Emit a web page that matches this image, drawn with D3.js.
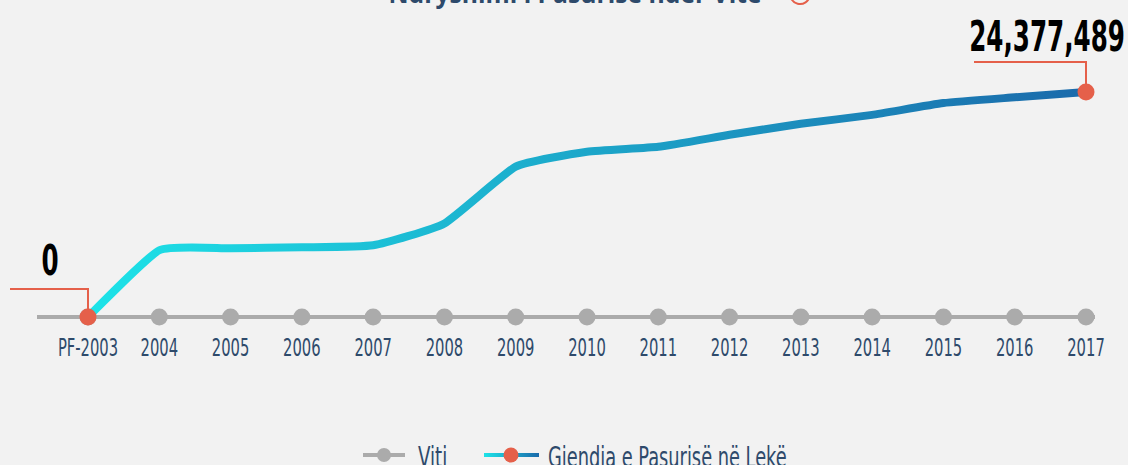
<!DOCTYPE html>
<html>
<head>
<meta charset="utf-8">
<script src="https://cdn.jsdelivr.net/npm/d3@7"></script>
<style>
  html, body { margin: 0; padding: 0; background: #f2f2f2; }
  #chart { width: 1128px; height: 465px; overflow: hidden; }
</style>
</head>
<body>
<div id="chart"></div>
<script>
// të dhënat
const years = ["PF-2003", "2004", "2005", "2006", "2007", "2008", "2009", "2010",
  "2011", "2012", "2013", "2014", "2015", "2016", "2017"];
const wealth = [0, 7230000, 7440000, 7550000, 7770000, 10140000, 16290000, 17900000,
  18440000, 19740000, 20930000, 21900000, 23180000, 23800000, 24377489];
const titleText = "Ndryshimi i Pasurisë ndër Vite";
const legendLabels = ["Viti", "Gjendja e Pasurisë në Lekë"];

const width = 1128, height = 465;
const axisY = 317;
const tickFont = "'Liberation Sans Narrow', 'DejaVu Sans Condensed', sans-serif";
const labelColor = "#2e4a6b";
const accent = "#e5604a";

const svg = d3.select("#chart").append("svg")
  .attr("width", width)
  .attr("height", height)
  .style("background", "#f2f2f2");

const defs = svg.append("defs");
const grad = defs.append("linearGradient")
  .attr("id", "lineGrad")
  .attr("gradientUnits", "userSpaceOnUse")
  .attr("x1", 88).attr("x2", 1086).attr("y1", 0).attr("y2", 0);
grad.append("stop").attr("offset", "0%").attr("stop-color", "#1de3e8");
grad.append("stop").attr("offset", "100%").attr("stop-color", "#1b6aab");

const legGrad = defs.append("linearGradient")
  .attr("id", "legGrad")
  .attr("x1", "0%").attr("x2", "100%");
legGrad.append("stop").attr("offset", "0%").attr("stop-color", "#1de3e8");
legGrad.append("stop").attr("offset", "100%").attr("stop-color", "#1b6aab");

const x = d3.scalePoint().domain(years).range([88, 1086]);
const y = d3.scaleLinear().domain([0, d3.max(wealth)]).range([axisY, 92]);

const data = years.map((yr, i) => ({ year: yr, value: wealth[i] }));

// titulli (i prerë në krye)
svg.append("text")
  .attr("transform", "translate(575,3) scale(0.95,1)")
  .attr("text-anchor", "middle")
  .style("font-family", "'Open Sans', 'DejaVu Sans', sans-serif")
  .style("font-weight", "bold")
  .style("font-size", "26px")
  .style("fill", labelColor)
  .text(titleText);

svg.append("path")
  .attr("d", d3.arc()({ innerRadius: 9, outerRadius: 11, startAngle: Math.PI * 0.55, endAngle: Math.PI * 1.6 }))
  .attr("transform", "translate(800,-6)")
  .attr("fill", accent);

// boshti i viteve
svg.append("line")
  .attr("x1", 37).attr("x2", 1095)
  .attr("y1", axisY).attr("y2", axisY)
  .attr("stroke", "#ababab")
  .attr("stroke-width", 4);

svg.selectAll(".year-dot")
  .data(years)
  .enter()
  .append("circle")
  .attr("class", "year-dot")
  .attr("cx", (d) => x(d))
  .attr("cy", axisY)
  .attr("r", 8.5)
  .attr("fill", "#ababab");

svg.selectAll(".year-label")
  .data(years)
  .enter()
  .append("text")
  .attr("class", "year-label")
  .attr("transform", (d) => `translate(${x(d)},${356}) scale(0.82,1.2)`)
  .attr("text-anchor", "middle")
  .style("font-family", tickFont)
  .style("font-size", "20px")
  .style("fill", labelColor)
  .text((d) => d);

// vija e pasurisë
const line = d3.line()
  .x((d) => x(d.year))
  .y((d) => y(d.value))
  .curve(d3.curveCardinal.tension(0.55));

svg.append("path")
  .datum(data)
  .attr("d", line)
  .attr("fill", "none")
  .attr("stroke", "url(#lineGrad)")
  .attr("stroke-width", 8)
  .attr("stroke-linejoin", "round")
  .attr("stroke-linecap", "round");

// shënimet e para dhe të fundit
const first = data[0], last = data[data.length - 1];
const callouts = [
  { d: first, lx: 10, ly: 289, tx: 50, anchor: "middle", ty: 275 },
  { d: last, lx: 974, ly: 62, tx: 1125, anchor: "end", ty: 51 }
];

callouts.forEach((c) => {
  const cx = x(c.d.year), cy = y(c.d.value);
  svg.append("path")
    .attr("d", `M${c.lx},${c.ly}H${cx}V${cy}`)
    .attr("fill", "none")
    .attr("stroke", accent)
    .attr("stroke-width", 2);
  svg.append("circle")
    .attr("cx", cx).attr("cy", cy)
    .attr("r", 8.5)
    .attr("fill", accent);
  svg.append("text")
    .attr("transform", `translate(${c.tx},${c.ty}) scale(0.74,1.13)`)
    .attr("text-anchor", c.anchor)
    .style("font-family", tickFont)
    .style("font-weight", "bold")
    .style("font-size", "37px")
    .style("fill", "#000")
    .text(d3.format(",")(c.d.value));
});

// legjenda
const leg = svg.append("g");
leg.append("line")
  .attr("x1", 363).attr("x2", 405).attr("y1", 455).attr("y2", 455)
  .attr("stroke", "#ababab").attr("stroke-width", 4);
leg.append("circle").attr("cx", 384).attr("cy", 455).attr("r", 7).attr("fill", "#ababab");
leg.append("text")
  .attr("transform", "translate(418,467) scale(0.88,1.2)")
  .style("font-family", tickFont)
  .style("font-size", "23px")
  .style("fill", labelColor)
  .text(legendLabels[0]);

leg.append("rect")
  .attr("x", 484).attr("y", 453).attr("width", 55).attr("height", 4)
  .attr("fill", "url(#legGrad)");
leg.append("circle").attr("cx", 511).attr("cy", 455).attr("r", 7.5).attr("fill", accent);
leg.append("text")
  .attr("transform", "translate(548,467) scale(0.86,1.2)")
  .style("font-family", tickFont)
  .style("font-size", "23px")
  .style("fill", labelColor)
  .text(legendLabels[1]);
</script>
</body>
</html>
